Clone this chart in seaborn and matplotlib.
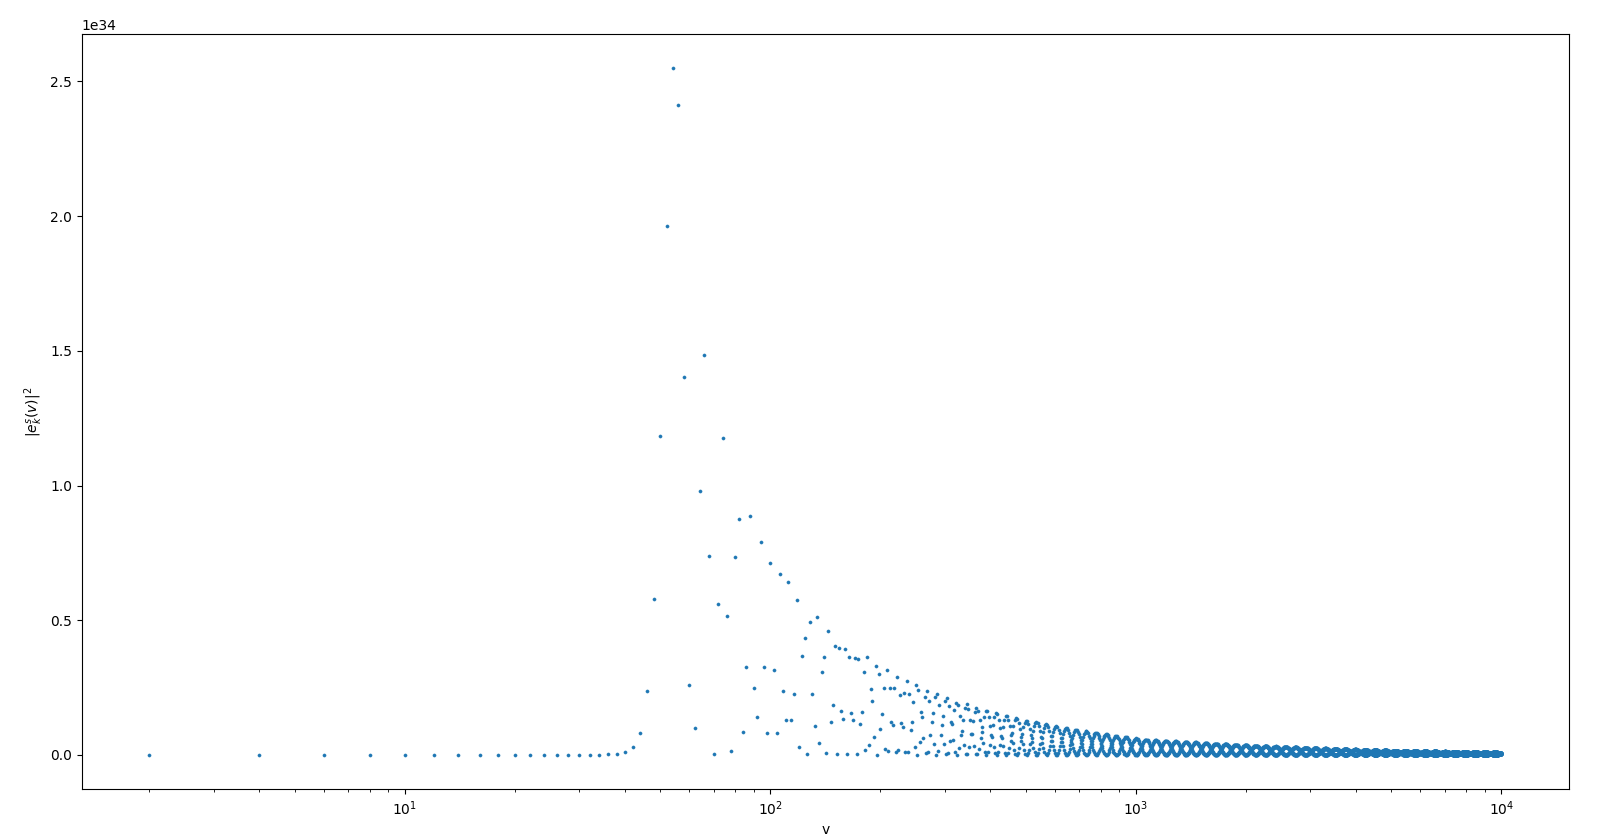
import numpy as np
import seaborn as sns
import matplotlib.pyplot as plt

# values, in units of 1e34
v_low = [2, 4, 6, 8, 10, 12, 14, 16, 18, 20, 22, 24, 26, 28, 30, 32, 34, 36,
         38, 40, 42, 44, 46, 48, 50, 52, 54, 56, 58, 60, 62, 64, 66, 68, 70,
         72, 74, 76, 78, 80, 82, 84, 86, 88, 90, 92, 94, 96, 98, 100, 102, 104,
         106, 108, 110, 112, 114, 116, 118, 120, 122, 124, 126, 128, 130, 132,
         134, 136, 138, 140, 142, 144, 146, 148, 150, 152, 154, 156, 158, 160,
         162, 164, 166, 168, 170, 172, 174, 176, 178, 180]
e_low = [0.0, 0.0, 0.0, 0.0, 0.0, 0.0, 0.0, 0.0, 0.0, 0.0, 0.0, 0.0, 0.0, 0.0,
         0.0, 0.0, 0.001, 0.002,
         0.004, 0.010, 0.028, 0.082, 0.238, 0.579, 1.184, 1.964, 2.549, 2.413,
         1.403, 0.260, 0.100, 0.980, 1.485, 0.737, 0.004,
         0.562, 1.177, 0.516, 0.015, 0.735, 0.876, 0.086, 0.327, 0.888, 0.249,
         0.141, 0.791, 0.327, 0.082, 0.713, 0.316, 0.082,
         0.672, 0.238, 0.130, 0.643, 0.130, 0.227, 0.576, 0.030, 0.368, 0.435,
         0.004, 0.494, 0.227, 0.108,
         0.513, 0.045, 0.308, 0.364, 0.006, 0.461, 0.123, 0.186, 0.405, 0.002,
         0.398, 0.164, 0.134, 0.394,
         0.003, 0.364, 0.156, 0.130, 0.360, 0.004, 0.357, 0.115, 0.160, 0.308]

# the dense tail (v = 182 ... 10000): top of the loops read at these v
env_v = [180, 194, 208, 223, 236, 250, 264, 283, 300, 319, 341, 364, 387, 412,
         439, 468, 498, 530, 562, 594, 824, 1047, 1500, 2810, 5270, 10000]
env_amp = [0.375, 0.342, 0.316, 0.290, 0.275, 0.264, 0.242, 0.231, 0.216,
           0.197, 0.190, 0.175, 0.166, 0.156, 0.147, 0.138, 0.129, 0.124,
           0.117, 0.109, 0.078, 0.058, 0.046, 0.028, 0.016, 0.010]
# loops: two alternating branches, knots evenly spaced in log v
loop_slope = 25.0
loop_offset = 0.06

v_tail = np.arange(182, 10001, 2)
amp = np.exp(np.interp(np.log(v_tail), np.log(env_v), np.log(env_amp)))
e_tail = amp * np.sin(np.pi / 4 * v_tail + loop_slope * np.log(v_tail) + loop_offset) ** 2

v = np.concatenate([v_low, v_tail])
e = np.concatenate([e_low, e_tail]) * 1e34

fig, ax = plt.subplots(figsize=(16.05, 8.35), dpi=100)
fig.subplots_adjust(left=0.051, right=0.9776, top=0.9595, bottom=0.0547)

sns.scatterplot(x=v, y=e, s=5, linewidth=0.4, edgecolor='#1f77b4',
                color='#1f77b4', ax=ax)
ax.set_xscale('log')
ax.set_xlabel('v')
ax.set_ylabel(r'$|e^s_k(v)|^2$')

fig.savefig('out.png', dpi=100)
